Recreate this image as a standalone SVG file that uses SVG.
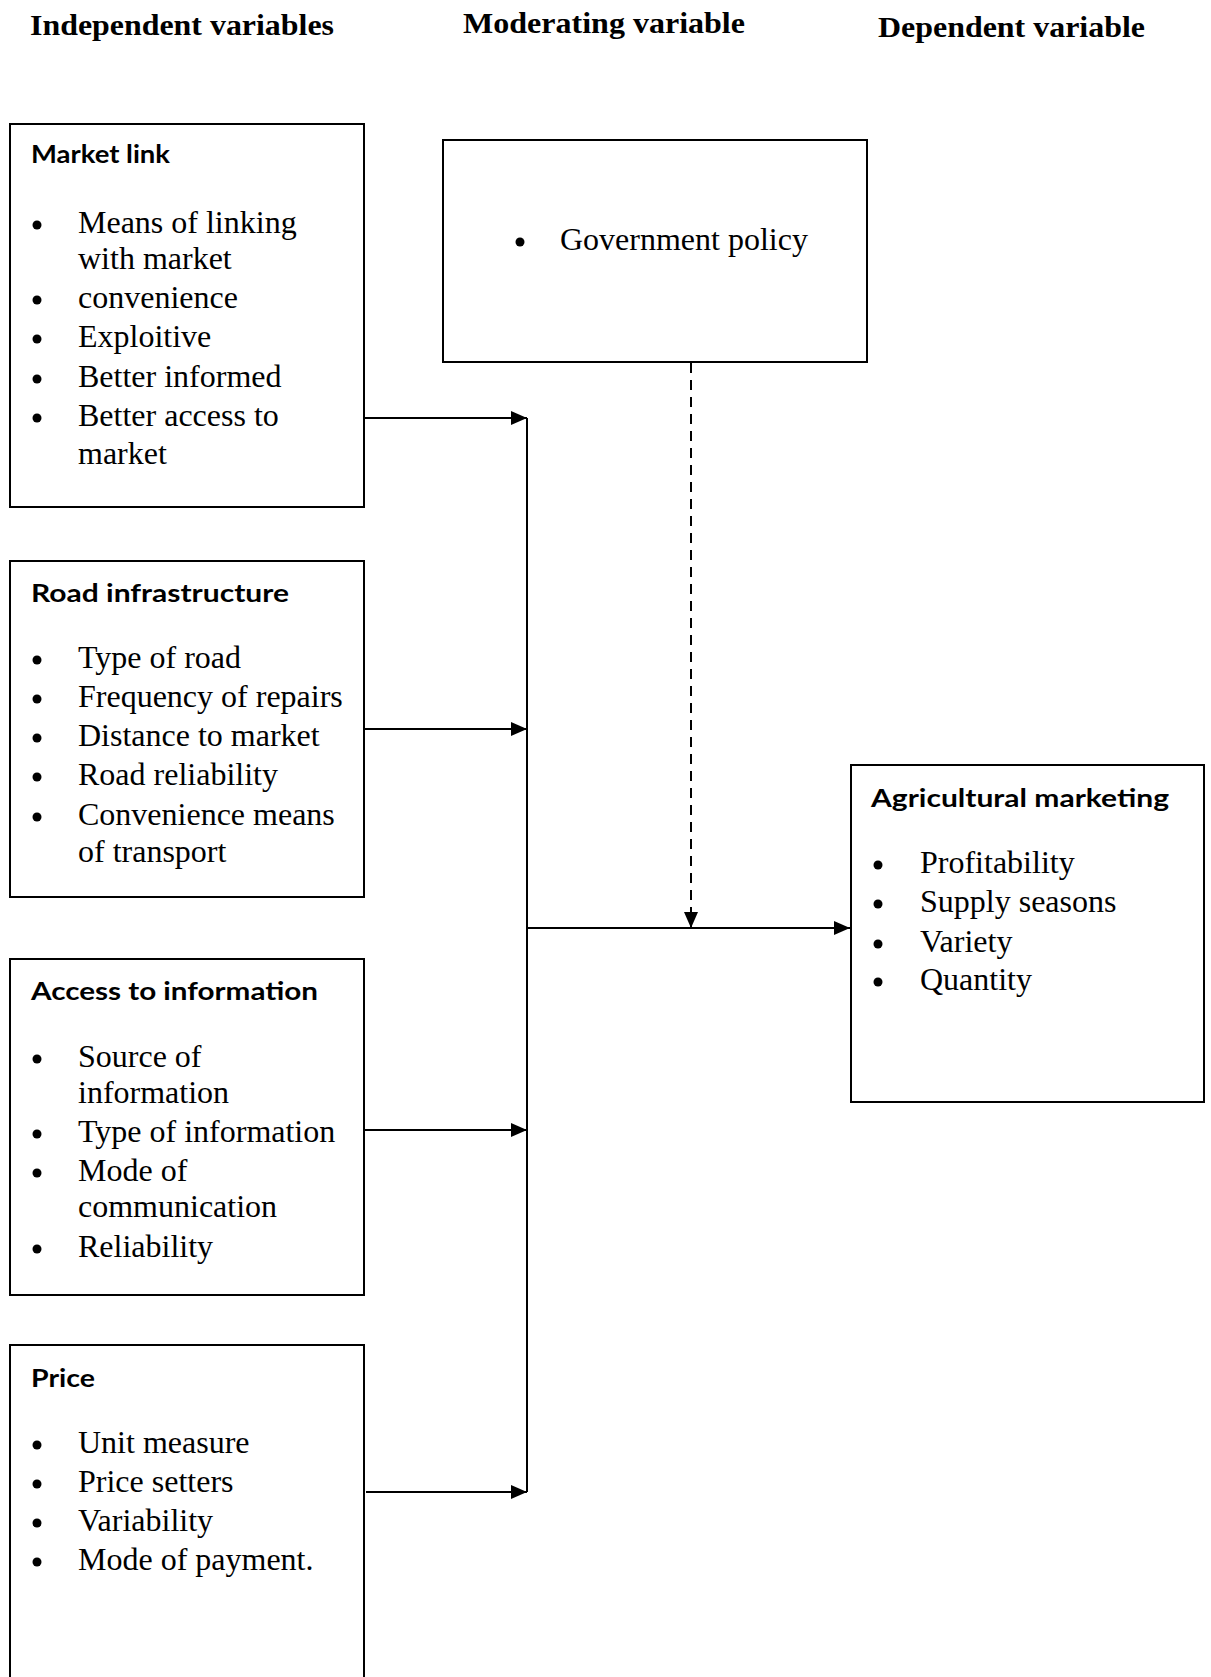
<svg xmlns="http://www.w3.org/2000/svg" width="1211" height="1677" viewBox="0 0 1211 1677">
<style>
.box{fill:#fff;stroke:#000;stroke-width:2}
.hdr{font-family:"Liberation Serif","Times New Roman",serif;font-weight:bold;font-size:30px;fill:#000}
.ttl{font-family:Lato,"Liberation Sans",sans-serif;font-weight:bold;font-size:25px;fill:#000}
.itm{font-family:"Liberation Serif","Times New Roman",serif;font-size:32px;fill:#000}
.bul{fill:#000}
.ln{fill:none;stroke:#000;stroke-width:2}
.dash{fill:none;stroke:#000;stroke-width:2;stroke-dasharray:10 7}
</style>
<defs>
<marker id="arr" markerUnits="userSpaceOnUse" markerWidth="17" markerHeight="15" refX="16" refY="7" orient="auto">
<path d="M0,0 L16,7 L0,14 z" fill="#000"/>
</marker>
</defs>
<rect width="1211" height="1677" fill="#fff"/>

<g id="headers">
<text class="hdr" x="30" y="35" textLength="304" lengthAdjust="spacingAndGlyphs">Independent variables</text>
<text class="hdr" x="463" y="33" textLength="282" lengthAdjust="spacingAndGlyphs">Moderating variable</text>
<text class="hdr" x="878" y="37" textLength="267" lengthAdjust="spacingAndGlyphs">Dependent variable</text>
</g>

<g id="market-link">
<rect class="box" x="10" y="124" width="354" height="383"/>
<text class="ttl" x="31" y="163" textLength="139" lengthAdjust="spacingAndGlyphs">Market link</text>
<circle class="bul" cx="37" cy="225" r="4.5"/><text class="itm" x="78" y="233">Means of linking</text>
<text class="itm" x="78" y="269">with market</text>
<circle class="bul" cx="37" cy="300" r="4.5"/><text class="itm" x="78" y="308">convenience</text>
<circle class="bul" cx="37" cy="339" r="4.5"/><text class="itm" x="78" y="347">Exploitive</text>
<circle class="bul" cx="37" cy="379" r="4.5"/><text class="itm" x="78" y="387">Better informed</text>
<circle class="bul" cx="37" cy="418" r="4.5"/><text class="itm" x="78" y="426">Better access to</text>
<text class="itm" x="78" y="464">market</text>
</g>

<g id="road-infrastructure">
<rect class="box" x="10" y="561" width="354" height="336"/>
<text class="ttl" x="31" y="602" textLength="258" lengthAdjust="spacingAndGlyphs">Road infrastructure</text>
<circle class="bul" cx="37" cy="660" r="4.5"/><text class="itm" x="78" y="668">Type of road</text>
<circle class="bul" cx="37" cy="699" r="4.5"/><text class="itm" x="78" y="707">Frequency of repairs</text>
<circle class="bul" cx="37" cy="738" r="4.5"/><text class="itm" x="78" y="746">Distance to market</text>
<circle class="bul" cx="37" cy="777" r="4.5"/><text class="itm" x="78" y="785">Road reliability</text>
<circle class="bul" cx="37" cy="817" r="4.5"/><text class="itm" x="78" y="825">Convenience means</text>
<text class="itm" x="78" y="862">of transport</text>
</g>

<g id="access-to-information">
<rect class="box" x="10" y="959" width="354" height="336"/>
<text class="ttl" x="31" y="1000" textLength="287" lengthAdjust="spacingAndGlyphs">Access to information</text>
<circle class="bul" cx="37" cy="1059" r="4.5"/><text class="itm" x="78" y="1067">Source of</text>
<text class="itm" x="78" y="1103">information</text>
<circle class="bul" cx="37" cy="1134" r="4.5"/><text class="itm" x="78" y="1142">Type of information</text>
<circle class="bul" cx="37" cy="1173" r="4.5"/><text class="itm" x="78" y="1181">Mode of</text>
<text class="itm" x="78" y="1217">communication</text>
<circle class="bul" cx="37" cy="1249" r="4.5"/><text class="itm" x="78" y="1257">Reliability</text>
</g>

<g id="price">
<rect class="box" x="10" y="1345" width="354" height="345"/>
<text class="ttl" x="31" y="1387" textLength="64" lengthAdjust="spacingAndGlyphs">Price</text>
<circle class="bul" cx="37" cy="1445" r="4.5"/><text class="itm" x="78" y="1453">Unit measure</text>
<circle class="bul" cx="37" cy="1484" r="4.5"/><text class="itm" x="78" y="1492">Price setters</text>
<circle class="bul" cx="37" cy="1523" r="4.5"/><text class="itm" x="78" y="1531">Variability</text>
<circle class="bul" cx="37" cy="1562" r="4.5"/><text class="itm" x="78" y="1570">Mode of payment.</text>
</g>

<g id="government-policy">
<rect class="box" x="443" y="140" width="424" height="222"/>
<circle class="bul" cx="520" cy="242" r="4.5"/><text class="itm" x="560" y="250">Government policy</text>
</g>

<g id="agricultural-marketing">
<rect class="box" x="851" y="765" width="353" height="337"/>
<text class="ttl" x="871" y="807" textLength="298" lengthAdjust="spacingAndGlyphs">Agricultural marketing</text>
<circle class="bul" cx="878" cy="865" r="4.5"/><text class="itm" x="920" y="873">Profitability</text>
<circle class="bul" cx="878" cy="904" r="4.5"/><text class="itm" x="920" y="912">Supply seasons</text>
<circle class="bul" cx="878" cy="944" r="4.5"/><text class="itm" x="920" y="952">Variety</text>
<circle class="bul" cx="878" cy="982" r="4.5"/><text class="itm" x="920" y="990">Quantity</text>
</g>

<g id="connectors">
<line class="ln" x1="527" y1="418" x2="527" y2="1492"/>
<line class="ln" x1="364" y1="418" x2="527" y2="418" marker-end="url(#arr)"/>
<line class="ln" x1="364" y1="729" x2="527" y2="729" marker-end="url(#arr)"/>
<line class="ln" x1="364" y1="1130" x2="527" y2="1130" marker-end="url(#arr)"/>
<line class="ln" x1="366" y1="1492" x2="527" y2="1492" marker-end="url(#arr)"/>
<line class="ln" x1="527" y1="928" x2="850" y2="928" marker-end="url(#arr)"/>
<line class="dash" x1="691" y1="363" x2="691" y2="928" marker-end="url(#arr)"/>
</g>
</svg>
